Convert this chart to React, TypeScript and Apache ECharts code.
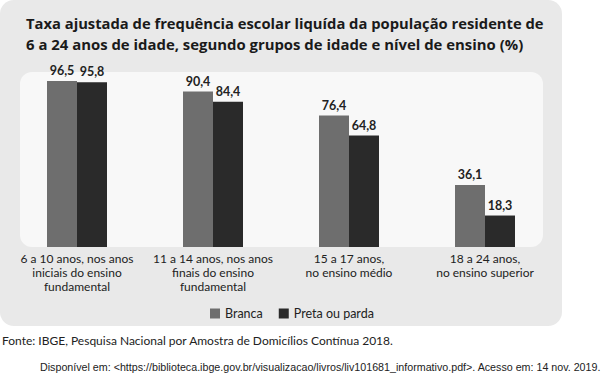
import React, { useEffect, useRef } from "react";
import * as echarts from "echarts";

const categories = [
  "6 a 10 anos, nos anos\niniciais do ensino\nfundamental",
  "11 a 14 anos, nos anos\nfinais do ensino\nfundamental",
  "15 a 17 anos,\nno ensino médio",
  "18 a 24 anos,\nno ensino superior",
];
const branca = [96.5, 90.4, 76.4, 36.1];
const pretaOuParda = [95.8, 84.4, 64.8, 18.3];
const seriesNames = ["Branca", "Preta ou parda"];
const titleLines = [
  "Taxa ajustada de frequência escolar liquída da população residente de",
  "6 a 24 anos de idade, segundo grupos de idade e nível de ensino (%)",
];
const sourceText = "Fonte: IBGE, Pesquisa Nacional por Amostra de Domicílios Contínua 2018.";
const availText =
  "Disponível em: <https://biblioteca.ibge.gov.br/visualizacao/livros/liv101681_informativo.pdf>. Acesso em: 14 nov. 2019.";

const FONT = "Lato";

export default function App() {
  const ref = useRef<HTMLDivElement>(null);
  useEffect(() => {
    const chart = echarts.init(ref.current!, null, { renderer: "svg" });
    const label = {
      show: true,
      position: "top",
      distance: 4,
      color: "#222",
      fontFamily: FONT,
      fontSize: 12.5,
      fontWeight: "bold",
      formatter: (p: any) => String(p.value).replace(".", ","),
    };
    chart.setOption({
      animation: false,
      backgroundColor: "#ffffff",
      graphic: [
        {
          type: "rect",
          z: -10,
          shape: { x: 0, y: 0, width: 562, height: 326, r: 14 },
          style: { fill: "#e9e9e9" },
          silent: true,
        },
        {
          type: "rect",
          z: -9,
          shape: { x: 20, y: 72, width: 523, height: 175, r: 12 },
          style: { fill: "#f8f8f8" },
          silent: true,
        },
        {
          type: "text",
          x: 26,
          y: 23,
          style: {
            text: titleLines[0],
            fill: "#1a1a1a",
            font: `bold 14.75px "Open Sans"`,
            textVerticalAlign: "middle",
          },
        },
        {
          type: "text",
          x: 26,
          y: 44,
          style: {
            text: titleLines[1],
            fill: "#1a1a1a",
            font: `bold 14.9px "Open Sans"`,
            textVerticalAlign: "middle",
          },
        },
        {
          type: "text",
          x: 2,
          y: 340,
          style: {
            text: sourceText,
            fill: "#222",
            font: `12px ${FONT}`,
            textVerticalAlign: "middle",
          },
        },
        {
          type: "text",
          x: 40,
          y: 367,
          style: {
            text: availText,
            fill: "#222",
            font: `10.7px "Liberation Sans"`,
            textVerticalAlign: "middle",
          },
        },
      ],
      legend: {
        data: seriesNames,
        left: 205,
        top: 302,
        itemWidth: 10,
        itemHeight: 10,
        itemGap: 16,
        icon: "rect",
        textStyle: { color: "#222", fontFamily: FONT, fontSize: 12.5 },
      },
      grid: { left: 9, right: 48, top: 75, bottom: 130, containLabel: false },
      xAxis: {
        type: "category",
        data: categories,
        axisLine: { show: false },
        axisTick: { show: false },
        axisLabel: {
          color: "#222",
          fontFamily: FONT,
          fontSize: 12,
          lineHeight: 14,
          margin: 4,
          interval: 0,
        },
      },
      yAxis: {
        type: "value",
        min: 0,
        max: 100,
        show: false,
      },
      series: [
        {
          name: seriesNames[0],
          type: "bar",
          data: branca,
          barWidth: 30,
          barGap: "0%",
          itemStyle: { color: "#6e6e6e" },
          label,
        },
        {
          name: seriesNames[1],
          type: "bar",
          data: pretaOuParda,
          barWidth: 30,
          barGap: "0%",
          itemStyle: { color: "#2a2a2a" },
          label,
        },
      ],
    });
    return () => chart.dispose();
  }, []);
  return (
    <div
      ref={ref}
      style={{ position: "absolute", left: 0, top: 0, width: 601, height: 377 }}
    />
  );
}
